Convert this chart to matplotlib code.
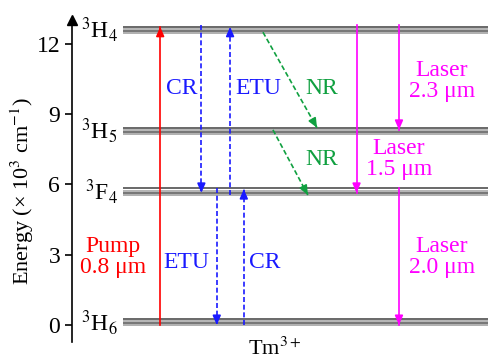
import os
import matplotlib
matplotlib.use("Agg")
import matplotlib.pyplot as plt
import matplotlib.font_manager as fm
from matplotlib.font_manager import FontProperties

# Times-like serif: try Liberation Serif file, else bundled STIXGeneral
font_path = None
for path in fm.findSystemFonts():
    base = os.path.basename(path).replace(' ', '').replace('_', '')
    if base.lower() == 'liberationserif-regular.ttf':
        font_path = path
        break
if font_path is None:
    font_path = os.path.join(matplotlib.get_data_path(), 'fonts', 'ttf', 'STIXGeneral.ttf')
fm.fontManager.addfont(font_path)
serif_name = FontProperties(fname=font_path).get_name()

plt.rcParams['font.family'] = [serif_name, 'DejaVu Serif']
plt.rcParams['mathtext.fontset'] = 'stix'

def fp(size):
    return FontProperties(fname=font_path, size=size)

# ---- data ----
level_names = ['$^3$H$_4$', '$^3$H$_5$', '$^3$F$_4$', '$^3$H$_6$']
level_energy = [12.6, 8.3, 5.7, 0.12]
y_ticks = [0, 3, 6, 9, 12]

# transitions: x position, start energy, end energy
pump_x, pump_y0, pump_y1 = 21.2, 0.0, 12.73
blue_x = [31.1, 38.0, 34.8, 41.3]
blue_y0 = [12.8, 5.55, 5.85, 0.0]
blue_y1 = [5.64, 12.73, 0.0, 5.8]
nr_x0 = [45.9, 48.3]
nr_x1 = [58.9, 56.7]
nr_y0 = [12.5, 8.33]
nr_y1 = [8.42, 5.55]
laser_x = [68.4, 78.6, 78.6]
laser_y0 = [12.8, 12.8, 5.85]
laser_y1 = [5.64, 8.33, 0.0]

labels = ['CR', 'ETU', 'NR', 'NR', 'Laser\n2.3 μm', 'Laser\n1.5 μm',
          'Laser\n2.0 μm', 'Pump\n0.8 μm', 'ETU', 'CR']
label_x = [26.3, 44.8, 60.0, 60.0, 88.9, 78.6, 88.9, 9.9, 27.6, 46.4]
label_y = [10.08, 10.08, 10.08, 7.05, 10.42, 7.09, 2.9, 2.9, 2.65, 2.65]

RED = '#ff0000'
BLUE = '#1a1aff'
GREEN = '#10a040'
MAG = '#ff00ff'
label_colors = [BLUE, BLUE, GREEN, GREEN, MAG, MAG, MAG, RED, BLUE, BLUE]

fig = plt.figure(figsize=(4.88, 3.59), dpi=100)
ax = fig.add_axes([72/488, 17/359, 1 - 72/488, 322/359])
ax.set_xlim(0, 100)
ax.set_ylim(-0.726, 13.02)

# energy level bands
band_offsets = [-0.14, -0.05, 0.04, 0.13]
band_colors = ['#9a9a9a', '#505050', '#a0a0a0', '#404040']
for name, e in zip(level_names, level_energy):
    for off, c in zip(band_offsets, band_colors):
        ax.plot([12.3, 100], [e + off, e + off], color=c, lw=1.1,
                solid_capstyle='butt', zorder=1)
    ax.text(11.0, e, name, ha='right', va='center', fontproperties=fp(17))

def arrow(x0, y0, x1, y1, color, ls, lw=1.2):
    ax.plot([x0, x1], [y0, y1], color=color, ls=ls, lw=lw, zorder=3,
            dashes=(3, 1.6) if ls == '--' else (None, None), clip_on=False)
    fx = x0 + (x1 - x0) * 0.97
    fy = y0 + (y1 - y0) * 0.97
    ax.annotate('', xy=(x1, y1), xytext=(fx, fy),
                arrowprops=dict(arrowstyle='-|>,head_length=0.55,head_width=0.24',
                                color=color, lw=1.2, shrinkA=0, shrinkB=0),
                zorder=4)

arrow(pump_x, pump_y0, pump_x, pump_y1, RED, '-')
for x, a, b in zip(blue_x, blue_y0, blue_y1):
    arrow(x, a, x, b, BLUE, '--')
for xa, xb, a, b in zip(nr_x0, nr_x1, nr_y0, nr_y1):
    arrow(xa, a, xb, b, GREEN, '--')
for x, a, b in zip(laser_x, laser_y0, laser_y1):
    arrow(x, a, x, b, MAG, '-')

for t, x, y, c in zip(labels, label_x, label_y, label_colors):
    ax.text(x, y, t, ha='center', va='center', fontproperties=fp(17), color=c,
            linespacing=1.0)

ax.text(48.8, -1.0, 'Tm$^{3+}$', ha='center', va='center', fontproperties=fp(16),
        clip_on=False)

# axes styling
for s in ['top', 'right', 'bottom']:
    ax.spines[s].set_visible(False)
ax.spines['left'].set_linewidth(1.2)
ax.set_xticks([])
ax.set_yticks(y_ticks)
ax.tick_params(axis='y', direction='out', length=5, width=1.2)
for lab in ax.get_yticklabels():
    lab.set_fontproperties(fp(17))
ax.plot([0], [13.02], marker='^', color='black', markersize=7,
        transform=ax.get_yaxis_transform(), clip_on=False)
ax.set_ylabel('Energy (× 10$^3$ cm$^{-1}$)', fontproperties=fp(16))
ax.yaxis.set_label_coords(-0.087, 0.47)

fig.savefig('out.png', dpi=100)
